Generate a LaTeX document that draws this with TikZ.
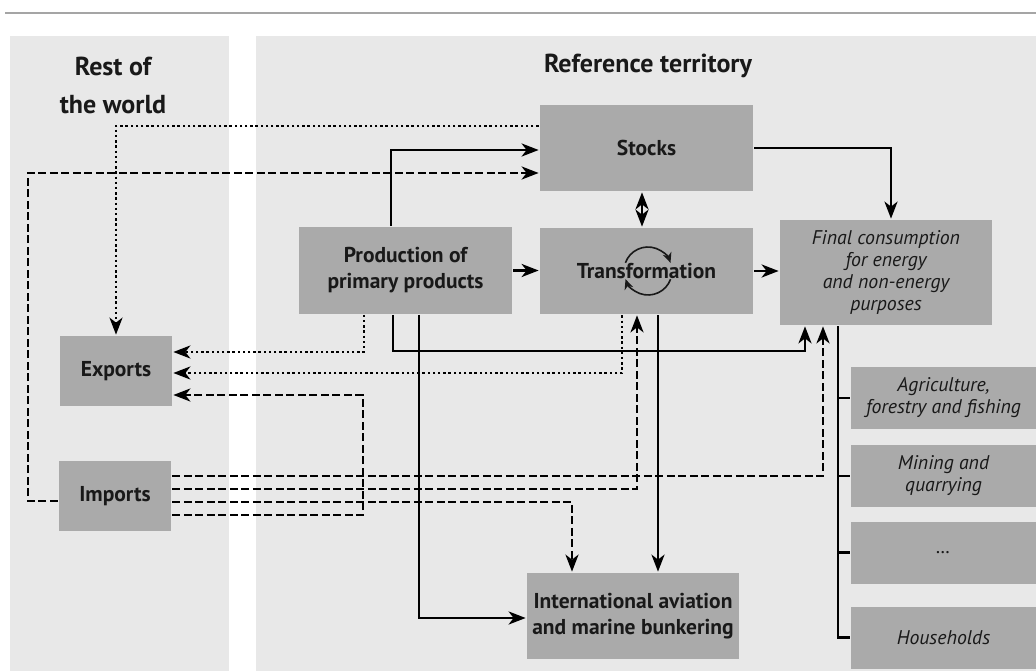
\documentclass[tikz,border=0pt]{standalone}
\usepackage{fontspec}
\setmainfont{PT Sans}
\usetikzlibrary{arrows.meta}
\definecolor{panel}{RGB}{232,232,232}
\definecolor{boxgray}{RGB}{170,170,170}
\definecolor{rulegray}{RGB}{165,165,165}
\definecolor{ink}{RGB}{25,25,25}
\newcommand{\boxfont}{\fontsize{21.5}{26}\bfseries\selectfont}
\newcommand{\headfont}{\fontsize{26}{38}\bfseries\selectfont}
\newcommand{\itfont}{\fontsize{19.8}{22}\itshape\selectfont}
\begin{document}
\begin{tikzpicture}[x=1pt,y=-1pt,line width=2.7pt,
  >={Stealth[length=17pt,width=13pt,inset=5pt]},
  box/.style={fill=boxgray,inner sep=0pt,align=center,font=\boxfont,text=ink},
  bigbox/.style={box,minimum width=213pt,minimum height=86pt},
  sidebox/.style={box,minimum width=112pt,minimum height=70pt},
  itbox/.style={box,font=\itfont},
  subbox/.style={itbox,minimum width=185pt,minimum height=62pt},
  head/.style={font=\headfont,align=center,inner sep=0pt,text=ink},
  dashline/.style={dash pattern=on 8pt off 3.5pt},
  dotline/.style={line width=2.4pt,dash pattern=on 2.4pt off 2.8pt},
  flow/.style={->},
  cyc/.style={line width=1.6pt,-{Stealth[length=10pt,width=9pt,inset=3pt]}}]
\useasboundingbox (0,0) rectangle (1036,671);
% panels and rule
\fill[white] (0,0) rectangle (1036,671);
\draw[rulegray,line width=2pt] (5,13) -- (1036,13);
\fill[panel] (10,36) rectangle (229,671);
\fill[panel] (256,36) rectangle (1036,671);
% headings
\node[head] (rest) at (113,85) {Rest of\\the world};
\node[head] (ref) at (648,66) {Reference territory};
% boxes
\node[bigbox] (stocks) at (646.5,148) {Stocks};
\node[bigbox] (prod) at (405.5,270.5) {Production of\\primary products};
\node[bigbox] (transf) at (646.5,271) {Transformation};
\node[itbox,minimum width=212pt,minimum height=105pt] (final) at (886,272.5) {Final consumption\\for energy\\and non-energy\\purposes};
\node[sidebox] (exports) at (116,371) {Exports};
\node[sidebox] (imports) at (115,496) {Imports};
\node[bigbox,minimum width=212pt] (intl) at (633,616) {International aviation\\and marine bunkering};
\node[subbox] (agri) at (943.5,398) {Agriculture,\\forestry and fishing};
\node[subbox] (mining) at (943.5,476) {Mining and\\quarrying};
\node[subbox] (etc) at (943.5,552.5) {\dots};
\node[subbox] (house) at (943.5,637.5) {Households};
% transformation cycle arrows
\draw[cyc,ink] (625.4,262.8) arc[start angle=160,end angle=20,radius=24pt];
\draw[cyc,ink] (670.6,279.2) arc[start angle=-20,end angle=-160,radius=24pt];
% solid flows
\draw[flow] (391,0 |- prod.north) |- (stocks.west |- 0,150);
\draw[flow] (stocks.east) -| (891,0 |- final.north);
\draw[<->] (642,0 |- stocks.south) -- (642,0 |- transf.north);
\draw[flow] (prod.east) -- (transf.west |- prod.east);
\draw[flow] (transf.east) -- (final.west |- transf.east);
\draw[flow] (393,0 |- prod.south) -- (393,351) -| (805,0 |- final.south);
\draw[flow] (419,0 |- prod.south) |- (intl.west |- 0,618);
\draw[flow] (658,0 |- transf.south) -- (658,0 |- intl.north);
% dotted flows (exports)
\draw[flow,dotline] (stocks.west |- 0,126) -| (exports.north);
\draw[flow,dotline] (364,0 |- prod.south) |- (exports.east |- 0,352);
\draw[flow,dotline] (622,0 |- transf.south) |- (exports.east |- 0,373);
% dashed flows (imports)
\draw[flow,dashline] (imports.west |- 0,501) -| (28,173) -- (stocks.west |- 0,173);
\draw[flow,dashline] (imports.east |- 0,476) -| (823,0 |- final.south);
\draw[flow,dashline] (imports.east |- 0,489) -| (637,0 |- transf.south);
\draw[flow,dashline] (imports.east |- 0,502) -| (572,0 |- intl.north);
\draw[flow,dashline] (imports.east |- 0,515) -| (363,395) -- (exports.east |- 0,395);
% final consumption breakdown
\draw (838,0 |- final.south) |- (house.west);
\draw (838,0 |- agri.west) -- (agri.west);
\draw (838,0 |- mining.west) -- (mining.west);
\draw (838,0 |- etc.west) -- (etc.west);
\end{tikzpicture}
\end{document}
